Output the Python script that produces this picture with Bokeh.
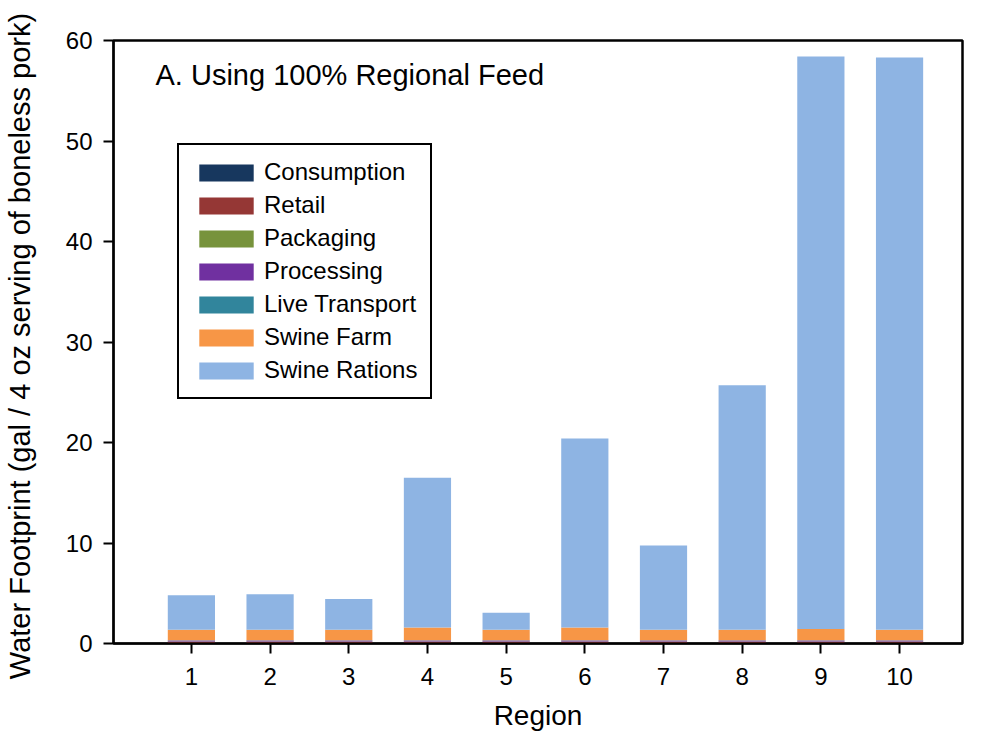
from bokeh.plotting import figure
from bokeh.models import Legend, LegendItem, Label, FixedTicker, ColumnDataSource, Range1d
from bokeh.embed import file_html
from bokeh.resources import INLINE

regions = [1, 2, 3, 4, 5, 6, 7, 8, 9, 10]
consumption = [0.05] * 10
retail = [0.12] * 10
packaging = [0.02] * 10
processing = [0.12] * 10
live_transport = [0.02] * 10
swine_farm = [1.03, 1.03, 1.03, 1.25, 1.03, 1.25, 1.03, 1.03, 1.12, 1.03]
swine_rations = [3.44, 3.54, 3.07, 14.92, 1.69, 18.82, 8.39, 24.34, 56.95, 56.94]

series = ["Consumption", "Retail", "Packaging", "Processing",
          "Live Transport", "Swine Farm", "Swine Rations"]
colors = ["#17375E", "#953735", "#77933C", "#7030A0", "#31859C", "#F79646", "#8EB4E3"]
y_ticks = [0, 10, 20, 30, 40, 50, 60]

data = dict(x=regions)
for name, vals in zip(series, [consumption, retail, packaging, processing,
                               live_transport, swine_farm, swine_rations]):
    data[name] = vals
source = ColumnDataSource(data)

FONT = "Liberation Sans"

p = figure(width=965, height=739, output_backend="svg", toolbar_location=None,
           x_range=Range1d(0.01, 10.8), y_range=Range1d(0, 60),
           min_border_left=111, min_border_right=3, min_border_top=40, min_border_bottom=96)

renderers = p.vbar_stack(series, x="x", width=0.6, color=colors, source=source,
                         line_color=None)

p.xgrid.visible = False
p.ygrid.visible = False
p.outline_line_color = "black"
p.outline_line_width = 2.5
p.outline_line_alpha = 1.0
p.background_fill_color = "white"
p.border_fill_color = "white"

p.xaxis.ticker = FixedTicker(ticks=regions)
p.yaxis.ticker = FixedTicker(ticks=y_ticks)
for ax in (p.xaxis[0], p.yaxis[0]):
    ax.axis_line_color = "black"
    ax.axis_line_width = 2
    ax.major_tick_line_color = "black"
    ax.major_tick_line_width = 2
    ax.major_tick_out = 10
    ax.major_tick_in = 0
    ax.minor_tick_line_color = None
    ax.major_label_text_font = FONT
    ax.major_label_text_font_size = "24px"
    ax.major_label_text_color = "black"
    ax.axis_label_text_font = FONT
    ax.axis_label_text_font_style = "normal"
    ax.axis_label_text_color = "black"

p.xaxis.major_label_standoff = 14
p.yaxis.major_label_standoff = 11
p.xaxis.axis_label = "Region"
p.xaxis.axis_label_text_font_size = "28px"
p.xaxis.axis_label_standoff = 12
p.yaxis.axis_label = "Water Footprint (gal  / 4 oz serving of boneless pork)"
p.yaxis.axis_label_text_font_size = "29px"
p.yaxis.axis_label_standoff = 27

items = [LegendItem(label=name, renderers=[r]) for name, r in zip(series, renderers)]
legend = Legend(items=items, location=(64, 244),
                label_text_font=FONT, label_text_font_size="24px",
                label_text_color="black",
                glyph_width=68, glyph_height=21, label_height=20,
                label_standoff=4, spacing=5, padding=13,
                border_line_color="black", border_line_width=2, border_line_alpha=1.0,
                background_fill_alpha=1.0, margin=0)
p.add_layout(legend, "center")

title = Label(x=42, y=569, x_units="screen", y_units="screen",
              text="A. Using 100% Regional Feed", text_font=FONT,
              text_font_size="29px", text_color="black", text_baseline="alphabetic")
p.add_layout(title)

open("out.html", "w").write(file_html(p, INLINE))
